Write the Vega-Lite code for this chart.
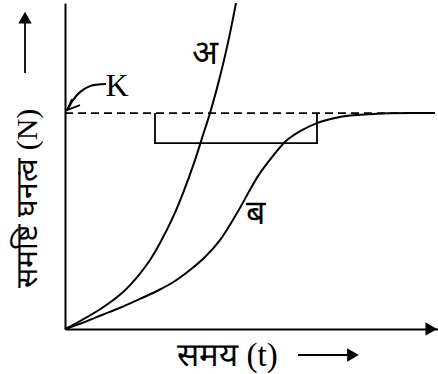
{
  "$schema": "https://vega.github.io/schema/vega-lite/v6.json",
  "width": 373,
  "height": 326,
  "autosize": "none",
  "padding": {"left": 65, "top": 3, "right": 0, "bottom": 45},
  "background": "white",
  "config": {"view": {"stroke": null}},
  "datasets": {
    "curves": [
      {"path": "अ", "ord": 0, "t": 0, "N": 0},
      {"path": "अ", "ord": 1, "t": 0.456, "N": 4.17},
      {"path": "अ", "ord": 2, "t": 0.992, "N": 9.72},
      {"path": "अ", "ord": 3, "t": 1.528, "N": 16.67},
      {"path": "अ", "ord": 4, "t": 1.957, "N": 24.54},
      {"path": "अ", "ord": 5, "t": 2.279, "N": 31.94},
      {"path": "अ", "ord": 6, "t": 2.547, "N": 39.81},
      {"path": "अ", "ord": 7, "t": 2.895, "N": 51.85},
      {"path": "अ", "ord": 8, "t": 3.164, "N": 62.96},
      {"path": "अ", "ord": 9, "t": 3.485, "N": 78.24},
      {"path": "अ", "ord": 10, "t": 3.673, "N": 88.43},
      {"path": "अ", "ord": 11, "t": 3.887, "N": 100.0},
      {"path": "अ", "ord": 12, "t": 4.075, "N": 111.57},
      {"path": "अ", "ord": 13, "t": 4.263, "N": 124.54},
      {"path": "अ", "ord": 14, "t": 4.424, "N": 137.04},
      {"path": "अ", "ord": 15, "t": 4.584, "N": 150.93},
      {"path": "ब", "ord": 0, "t": 0, "N": 0},
      {"path": "ब", "ord": 1, "t": 0.456, "N": 2.78},
      {"path": "ब", "ord": 2, "t": 0.992, "N": 6.48},
      {"path": "ब", "ord": 3, "t": 1.528, "N": 10.19},
      {"path": "ब", "ord": 4, "t": 2.064, "N": 14.35},
      {"path": "ब", "ord": 5, "t": 2.52, "N": 18.06},
      {"path": "ब", "ord": 6, "t": 2.949, "N": 22.22},
      {"path": "ब", "ord": 7, "t": 3.351, "N": 27.31},
      {"path": "ब", "ord": 8, "t": 3.753, "N": 33.33},
      {"path": "ब", "ord": 9, "t": 4.155, "N": 41.2},
      {"path": "ब", "ord": 10, "t": 4.611, "N": 53.7},
      {"path": "ब", "ord": 11, "t": 5.174, "N": 70.83},
      {"path": "ब", "ord": 12, "t": 5.55, "N": 79.63},
      {"path": "ब", "ord": 13, "t": 5.952, "N": 87.5},
      {"path": "ब", "ord": 14, "t": 6.354, "N": 92.13},
      {"path": "ब", "ord": 15, "t": 6.756, "N": 95.37},
      {"path": "ब", "ord": 16, "t": 7.239, "N": 97.69},
      {"path": "ब", "ord": 17, "t": 7.641, "N": 98.84},
      {"path": "ब", "ord": 18, "t": 8.525, "N": 99.86},
      {"path": "ब", "ord": 19, "t": 9.92, "N": 100.0},
      {"path": "Karrow", "ord": 0, "t": 1.099, "N": 113.43},
      {"path": "Karrow", "ord": 1, "t": 0.67, "N": 112.5},
      {"path": "Karrow", "ord": 2, "t": 0.402, "N": 109.72},
      {"path": "Karrow", "ord": 3, "t": 0.214, "N": 106.02},
      {"path": "Karrow", "ord": 4, "t": 0.08, "N": 101.85}
    ],
    "segments": [
      {"path": "bracket", "ord": 0, "t": 2.413, "N": 100.0},
      {"path": "bracket", "ord": 1, "t": 2.413, "N": 86.11},
      {"path": "bracket", "ord": 2, "t": 6.756, "N": 86.11},
      {"path": "bracket", "ord": 3, "t": 6.756, "N": 100.0},
      {"path": "Khead", "ord": 0, "t": 0.188, "N": 106.5},
      {"path": "Khead", "ord": 1, "t": 0.054, "N": 101.39},
      {"path": "Khead", "ord": 2, "t": 0.402, "N": 103.7},
      {"path": "yarrow", "ord": 0, "t": -1.072, "N": 118.52},
      {"path": "yarrow", "ord": 1, "t": -1.072, "N": 142.13},
      {"path": "xarrow", "ord": 0, "t": 6.247, "N": -12.04},
      {"path": "xarrow", "ord": 1, "t": 7.641, "N": -12.04}
    ],
    "heads": [
      {"shape": "triangle-up", "t": -1.072, "N": 144.2},
      {"shape": "triangle-right", "t": 7.72, "N": -12.04},
      {"shape": "triangle-right", "t": 9.82, "N": 0}
    ],
    "labels": [
      {"label": "K", "t": 1.394, "N": 112.5, "size": 32},
      {"label": "अ", "t": 3.753, "N": 127.3, "size": 34},
      {"label": "ब", "t": 5.094, "N": 53.24, "size": 34}
    ],
    "capacity": [{"K": 100, "t0": 0, "t1": 9.92}]
  },
  "layer": [
    {
      "data": {"name": "capacity"},
      "mark": {"type": "rule", "color": "black", "strokeWidth": 1.6, "strokeDash": [8, 5]},
      "encoding": {
        "x": {"field": "t0", "type": "quantitative", "scale": {"domain": [0, 10], "nice": false, "zero": false},
              "axis": {"domain": true, "domainColor": "black", "domainWidth": 2, "ticks": false, "labels": false, "grid": false,
                       "title": "समय (t)", "titleFont": "Liberation Serif", "titleFontSize": 33, "titleFontWeight": "normal",
                       "titleColor": "black", "titleX": 162, "titleY": 26, "titleBaseline": "middle", "titleAnchor": "middle"}},
        "x2": {"field": "t1"},
        "y": {"field": "K", "type": "quantitative", "scale": {"domain": [0, 151], "nice": false, "zero": false},
              "axis": {"domain": true, "domainColor": "black", "domainWidth": 2, "ticks": false, "labels": false, "grid": false,
                       "title": "समष्टि घनत्व (N)", "titleFont": "Liberation Serif", "titleFontSize": 30, "titleFontWeight": "normal",
                       "titleColor": "black", "titleX": -38, "titleY": 195, "titleAngle": 270, "titleBaseline": "middle", "titleAlign": "center"}}
      }
    },
    {
      "data": {"name": "curves"},
      "mark": {"type": "line", "color": "black", "strokeWidth": 2, "interpolate": "catmull-rom", "clip": false},
      "encoding": {
        "x": {"field": "t", "type": "quantitative"},
        "y": {"field": "N", "type": "quantitative"},
        "detail": {"field": "path"},
        "order": {"field": "ord", "type": "quantitative"}
      }
    },
    {
      "data": {"name": "segments"},
      "mark": {"type": "line", "color": "black", "strokeWidth": 1.8, "clip": false},
      "encoding": {
        "x": {"field": "t", "type": "quantitative"},
        "y": {"field": "N", "type": "quantitative"},
        "detail": {"field": "path"},
        "order": {"field": "ord", "type": "quantitative"}
      }
    },
    {
      "data": {"name": "heads"},
      "mark": {"type": "point", "filled": true, "color": "black", "opacity": 1, "size": 180, "clip": false},
      "encoding": {
        "x": {"field": "t", "type": "quantitative"},
        "y": {"field": "N", "type": "quantitative"},
        "shape": {"field": "shape", "type": "nominal", "scale": null, "legend": null}
      }
    },
    {
      "data": {"name": "labels"},
      "mark": {"type": "text", "color": "black", "align": "center", "baseline": "middle", "font": "Liberation Serif"},
      "encoding": {
        "x": {"field": "t", "type": "quantitative"},
        "y": {"field": "N", "type": "quantitative"},
        "text": {"field": "label"},
        "size": {"field": "size", "type": "quantitative", "scale": null, "legend": null}
      }
    }
  ]
}
